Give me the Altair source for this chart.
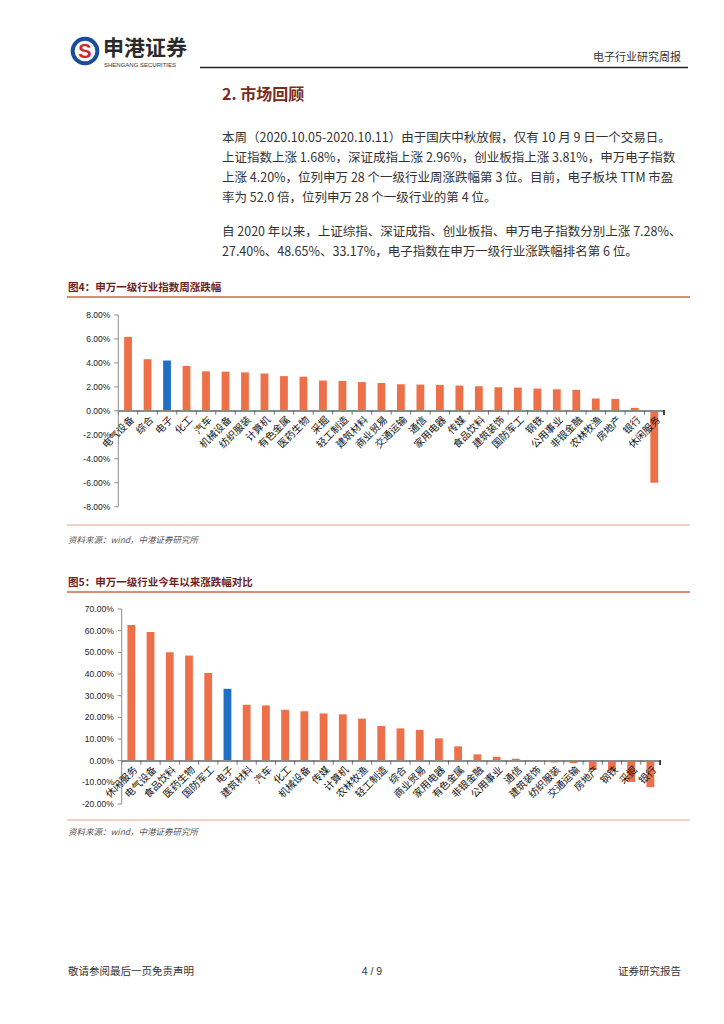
import altair as alt
import pandas as pd

# ---------------- data ----------------
cats1 = ["电气设备", "综合", "电子", "化工", "汽车", "机械设备", "纺织服装", "计算机", "有色金属", "医药生物",
         "采掘", "轻工制造", "建筑材料", "商业贸易", "交通运输", "通信", "家用电器", "传媒", "食品饮料", "建筑装饰",
         "国防军工", "钢铁", "公用事业", "非银金融", "农林牧渔", "房地产", "银行", "休闲服务"]
vals1 = [6.17, 4.31, 4.20, 3.75, 3.30, 3.27, 3.21, 3.12, 2.90, 2.85,
         2.53, 2.50, 2.40, 2.33, 2.22, 2.19, 2.17, 2.11, 2.05, 1.97,
         1.94, 1.86, 1.80, 1.75, 1.03, 1.00, 0.25, -6.00]
ticks1 = [8, 6, 4, 2, 0, -2, -4, -6, -8]
tick_labels1 = ["8.00%", "6.00%", "4.00%", "2.00%", "0.00%", "-2.00%", "-4.00%", "-6.00%", "-8.00%"]

cats2 = ["休闲服务", "电气设备", "食品饮料", "医药生物", "国防军工", "电子", "建筑材料", "汽车", "化工", "机械设备",
         "传媒", "计算机", "农林牧渔", "轻工制造", "综合", "商业贸易", "家用电器", "有色金属", "非银金融", "公用事业",
         "通信", "建筑装饰", "纺织服装", "交通运输", "房地产", "钢铁", "采掘", "银行"]
vals2 = [62.6, 59.4, 50.0, 48.5, 40.5, 33.17, 25.8, 25.5, 23.5, 22.8,
         21.8, 21.4, 19.4, 16.0, 14.9, 14.2, 10.3, 6.6, 2.9, 1.8,
         0.9, 0.15, -0.8, -1.1, -4.3, -4.6, -9.8, -12.2]
ticks2 = [70, 60, 50, 40, 30, 20, 10, 0, -10, -20]
tick_labels2 = ["70.00%", "60.00%", "50.00%", "40.00%", "30.00%", "20.00%", "10.00%", "0.00%", "-10.00%", "-20.00%"]

highlight = "电子"

para1 = [
    "本周（2020.10.05-2020.10.11）由于国庆中秋放假，仅有 10 月 9 日一个交易日。",
    "上证指数上涨 1.68%，深证成指上涨 2.96%，创业板指上涨 3.81%，申万电子指数",
    "上涨 4.20%，位列申万 28 个一级行业周涨跌幅第 3 位。目前，电子板块 TTM 市盈",
    "率为 52.0 倍，位列申万 28 个一级行业的第 4 位。",
]
para2 = [
    "自 2020 年以来，上证综指、深证成指、创业板指、申万电子指数分别上涨 7.28%、",
    "27.40%、48.65%、33.17%，电子指数在申万一级行业涨跌幅排名第 6 位。",
]

ORANGE = "#EE7048"
BLUE = "#1F6FC4"
CJK = "Noto Sans CJK SC"
LAT = "Liberation Sans"

W = 708
H1 = 552          # top panel: page y 8 .. 560
H2 = 1008 - H1    # bottom panel: page y 560 .. 1016


def mk(off):
    """page coordinate -> panel coordinate"""
    return (lambda x: x - 8), (lambda y: y - 8 - off)


def txt(m, s, x, y, size, color="#333333", weight="normal", align="left", font=CJK, baseline="middle", style="normal"):
    px, py = m
    return alt.Chart(pd.DataFrame({"t": [s]})).mark_text(
        fontSize=size, color=color, fontWeight=weight, align=align, font=font,
        baseline=baseline, fontStyle=style
    ).encode(x=alt.value(px(x)), y=alt.value(py(y)), text="t:N")


def hline(m, x1, x2, y, color, width=1.0):
    px, py = m
    return alt.Chart(pd.DataFrame({"a": [0]})).mark_rule(color=color, strokeWidth=width).encode(
        x=alt.value(px(x1)), x2=alt.value(px(x2)), y=alt.value(py(y)))


def dot(m, x, y, size, color):
    px, py = m
    return alt.Chart(pd.DataFrame({"a": [0]})).mark_circle(size=size, color=color, opacity=1).encode(
        x=alt.value(px(x)), y=alt.value(py(y)))


def bar_chart(m, cats, vals, ticks, tick_labels, xr, yr, ydom, axis_x):
    px, py = m
    df = pd.DataFrame({"cat": cats, "v": vals})
    df["c"] = [BLUE if c == highlight else ORANGE for c in cats]
    tdf = pd.DataFrame({"tick": ticks, "lab": tick_labels})
    xs = alt.Scale(domain=cats, range=[px(xr[0]), px(xr[1])], paddingInner=0, paddingOuter=0)
    ys = alt.Scale(domain=ydom, range=[py(yr[0]), py(yr[1])], nice=False, zero=False)
    X = alt.X("cat:N", scale=xs, axis=None, sort=None)
    base = alt.Chart(df)
    bars = base.mark_bar(size=7.8).encode(
        x=X, y=alt.Y("v:Q", scale=ys, axis=None), color=alt.Color("c:N", scale=None))
    zero = base.mark_rule(color="#8c8c8c", strokeWidth=1).encode(
        x=alt.value(px(axis_x)), x2=alt.value(px(xr[1])), y=alt.Y("zero:Q", scale=ys, axis=None)
    ).transform_calculate(zero="0")
    cticks = base.mark_tick(color="#444444", thickness=1, size=4, orient="vertical", yOffset=2).encode(
        x=alt.X("cat:N", scale=xs, axis=None, sort=None, bandPosition=0),
        y=alt.Y("zero:Q", scale=ys, axis=None)
    ).transform_calculate(zero="0")
    endtick = base.mark_tick(color="#444444", thickness=1, size=4, orient="vertical", yOffset=2).encode(
        x=alt.value(px(xr[1])), y=alt.Y("zero:Q", scale=ys, axis=None)
    ).transform_calculate(zero="0")
    clabels = base.mark_text(angle=315, align="right", baseline="top", font=CJK, fontSize=10,
                             color="#111111", xOffset=1, yOffset=4).encode(
        x=X, y=alt.Y("zero:Q", scale=ys, axis=None), text="cat:N"
    ).transform_calculate(zero="0")
    tchart = alt.Chart(tdf)
    yline = tchart.mark_rule(color="#8c8c8c", strokeWidth=1).encode(
        x=alt.value(px(axis_x)), y=alt.Y("min(tick):Q", scale=ys, axis=None), y2="max(tick):Q")
    yticks = tchart.mark_rule(color="#8c8c8c", strokeWidth=1).encode(
        x=alt.value(px(axis_x) - 4), x2=alt.value(px(axis_x)), y=alt.Y("tick:Q", scale=ys, axis=None))
    ylabels = tchart.mark_text(align="right", baseline="middle", font=LAT, fontSize=8.5, color="#222222").encode(
        x=alt.value(px(axis_x) - 8), y=alt.Y("tick:Q", scale=ys, axis=None), text="lab:N")
    return [bars, zero, cticks, endtick, yline, yticks, ylabels, clabels]


m1 = mk(0)
m2 = mk(H1)

top = [
    # header / logo
    dot(m1, 85, 51, 820, "#1B4B9B"),
    dot(m1, 85, 51, 430, "#FFFFFF"),
    txt(m1, "S", 85, 52, 20, color="#D7262B", weight="bold", align="center", font=LAT),
    txt(m1, "申港证券", 103, 49, 21, color="#2a2a2a", weight="bold"),
    txt(m1, "SHENGANG SECURITIES", 104, 65, 6, color="#333333", font=LAT),
    hline(m1, 200, 688, 67.5, "#222222", 1.5),
    txt(m1, "电子行业研究周报", 681, 58, 11, color="#333333", align="right"),
    txt(m1, "2. 市场回顾", 222, 95, 16, color="#7B2B1C", weight="bold"),
]
for i, line in enumerate(para1):
    top.append(txt(m1, line, 222, 138 + 20 * i, 12.5))
for i, line in enumerate(para2):
    top.append(txt(m1, line, 222, 232 + 20 * i, 12.5))
top += [
    txt(m1, "图4：申万一级行业指数周涨跌幅", 68, 288, 10.5, color="#6E1E1E", weight="bold"),
    hline(m1, 67, 690, 297, "#C8684A", 1.3),
    hline(m1, 67, 690, 525, "#E8A08A", 1.0),
    txt(m1, "资料来源：wind，中港证券研究所", 68, 540, 8.5, color="#555555", style="italic"),
]
top += bar_chart(m1, cats1, vals1, ticks1, tick_labels1, xr=(118.3, 664), yr=(506.7, 315), ydom=[-8, 8], axis_x=118.3)

bottom = [
    txt(m2, "图5：申万一级行业今年以来涨跌幅对比", 68, 583, 10.5, color="#6E1E1E", weight="bold"),
    hline(m2, 67, 690, 592, "#C8684A", 1.3),
    hline(m2, 67, 690, 820, "#E8A08A", 1.0),
    txt(m2, "资料来源：wind，中港证券研究所", 68, 832, 8.5, color="#555555", style="italic"),
    txt(m2, "敬请参阅最后一页免责声明", 68, 972, 10.5, color="#333333"),
    txt(m2, "4 / 9", 372, 972, 10.5, color="#333333", align="center", font=LAT),
    txt(m2, "证券研究报告", 681, 972, 10.5, color="#333333", align="right"),
]
bottom += bar_chart(m2, cats2, vals2, ticks2, tick_labels2, xr=(121.7, 660), yr=(804, 609), ydom=[-20, 70], axis_x=121.7)

panel1 = alt.layer(*top).properties(width=W, height=H1)
panel2 = alt.layer(*bottom).properties(width=W, height=H2)

chart = alt.vconcat(panel1, panel2, spacing=0, bounds="flush").properties(
    padding=0
).configure_view(stroke=None)

chart.save("out.html", embed_options={"renderer": "svg", "actions": False})
